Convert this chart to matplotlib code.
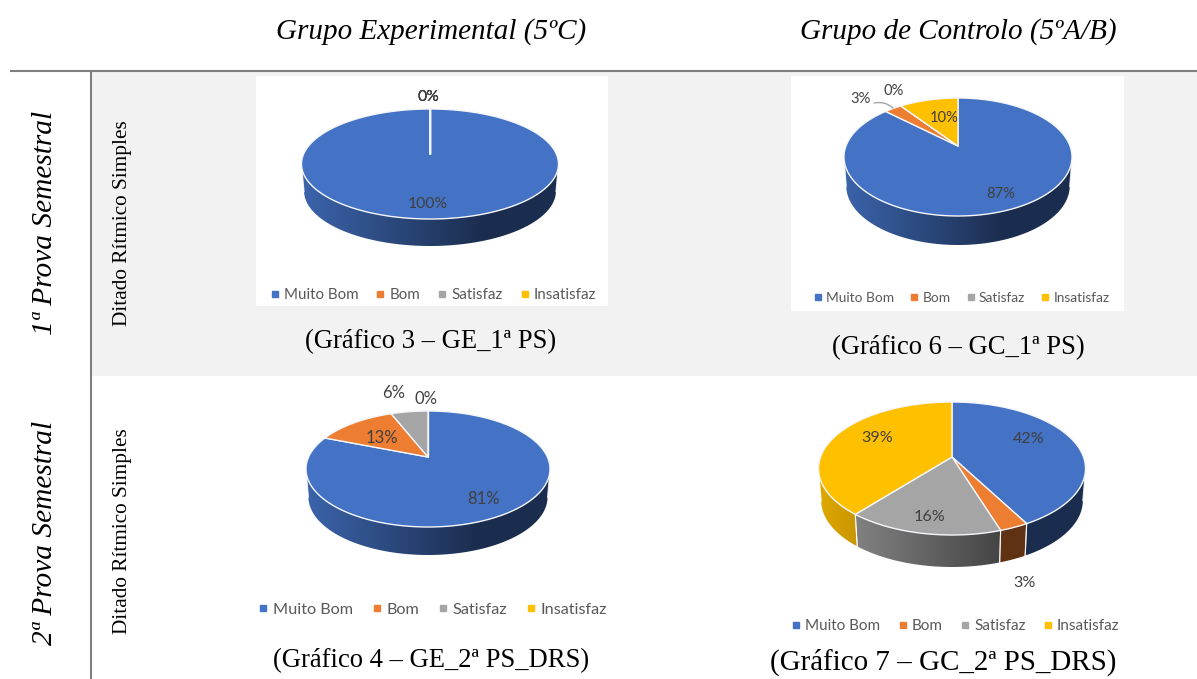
import numpy as np
import matplotlib
matplotlib.use('Agg')
import matplotlib.pyplot as plt
from matplotlib.colors import to_rgb
from matplotlib.lines import Line2D
from matplotlib.patches import Polygon, Rectangle

W, H = 1197, 679

categories = ['Muito Bom', 'Bom', 'Satisfaz', 'Insatisfaz']
colors = ['#4472c4', '#ed7d31', '#a5a5a5', '#ffc000']

values_ge1 = [100, 0, 0, 0]
values_gc1 = [87, 3, 0, 10]
values_ge2 = [81, 13, 6, 0]
values_gc2 = [42, 3, 16, 39]

column_titles = ['Grupo Experimental (5ºC)', 'Grupo de Controlo (5ºA/B)']
row_titles = ['1ª Prova Semestral', '2ª Prova Semestral']
test_name = 'Ditado Rítmico Simples'
captions = ['(Gráfico 3 – GE_1ª PS)', '(Gráfico 6 – GC_1ª PS)',
            '(Gráfico 4 – GE_2ª PS_DRS)', '(Gráfico 7 – GC_2ª PS_DRS)']

# layout, all in pixels of the reference
# panel = x0, x1, y0, y1 / apex, top, bottom and rx of the top face
charts = [
    dict(values=values_ge1, panel=(256, 608, 76, 306), apex=(430, 154), top=109, bottom=219, rx=128.5, depth=27,
         labels=[(428, 204), (428, 97), (428, 97), (428, 97)], legend=(433.5, 295), fs=11.3, lfs=10.9, spacing=1.2),
    dict(values=values_gc1, panel=(791, 1124, 76, 311), apex=(958, 146), top=98, bottom=216, rx=114, depth=29,
         labels=[(1001, 194), (861, 99), (894, 91), (944, 118)], legend=(962, 298), fs=10.6, lfs=9.9, spacing=1.2),
    dict(values=values_ge2, panel=(250, 613, 378, 630), apex=(428, 457), top=411, bottom=527, rx=122, depth=28,
         labels=[(484, 499), (382, 438), (394, 393), (426, 399)], legend=(433, 610), fs=12, lfs=11.7, spacing=1.2),
    dict(values=values_gc2, panel=(770, 1130, 385, 640), apex=(952, 457), top=402, bottom=535, rx=133.5, depth=32,
         labels=[(1029, 439), (1025, 583), (930, 517), (877, 438)], legend=(956, 626), fs=11.6, lfs=11, spacing=1.2),
]


def project(theta, apex, top, bottom, rx):
    # circle seen in perspective, so the apex sits above the ellipse centre
    k = (bottom - apex[1] - (apex[1] - top)) / (bottom - top)
    sy = (apex[1] - top) * (1 + k)
    sx = rx * np.sqrt(1 - k ** 2)
    u, v = np.sin(theta), np.cos(theta)
    return apex[0] + sx * u / (1 + k * v), apex[1] - sy * v / (1 + k * v), v, k


def draw_pie(ax, c):
    apex, top, bottom, rx, depth = c['apex'], c['top'], c['bottom'], c['rx'], c['depth']
    vals = np.array(c['values'], dtype=float)
    edges = np.concatenate([[0], np.cumsum(vals) / vals.sum()]) * 2 * np.pi
    left, right = apex[0] - rx - 2, apex[0] + rx + 2
    frac = np.linspace(0, 1, 300)
    shade = np.interp(frac, [0, 0.7, 1], [0.88, 0.4, 0.4])
    cx = (left + right) / 2

    # side walls first
    for i, col in enumerate(colors):
        t = np.linspace(edges[i], edges[i + 1], 400)
        x, y, v, k = project(t, apex, top, bottom, rx)
        mask = v < -k
        if mask.sum() < 2:
            continue
        x, y = x[mask], y[mask]
        xb = cx + (x - cx) * 0.98
        yb = y + depth
        poly = np.column_stack([np.r_[x, xb[::-1]], np.r_[y, yb[::-1]]])
        grad = shade[None, :, None] * np.array(to_rgb(col))[None, None, :]
        im = ax.imshow(grad, extent=(left, right, bottom + depth + 5, top), aspect='auto',
                       interpolation='bilinear', zorder=2)
        im.set_clip_path(Polygon(poly, closed=True, transform=ax.transData))
        for px, pxb, py, pyb in [(x[0], xb[0], y[0], yb[0]), (x[-1], xb[-1], y[-1], yb[-1])]:
            ax.plot([px, pxb], [py, pyb], color='white', lw=0.8, alpha=0.8, zorder=3)

    # top face
    for i, col in enumerate(colors):
        t = np.linspace(edges[i], edges[i + 1], 300)
        x, y, _, _ = project(t, apex, top, bottom, rx)
        ax.fill(np.r_[apex[0], x], np.r_[apex[1], y], facecolor=col, edgecolor='#f4f6fa',
                lw=1.0, zorder=4, joinstyle='round')

    for val, pos in zip(c['values'], c['labels']):
        ax.text(pos[0], pos[1], f'{val}%', ha='center', va='center', fontsize=c['fs'],
                family='Lato', color='#404040', zorder=6)

    handles = [Line2D([], [], marker='s', ls='none', color=col, ms=4.5) for col in colors]
    ax.legend(handles, categories, ncol=4, loc='center', bbox_to_anchor=c['legend'],
              bbox_transform=ax.transData, frameon=False, handlelength=0.5, handletextpad=0.35,
              columnspacing=c['spacing'], borderpad=0, borderaxespad=0,
              prop=dict(family='Lato', size=c['lfs']), labelcolor='#595959')

    x0, x1, y0, y1 = c['panel']
    ax.set_xlim(x0, x1)
    ax.set_ylim(y1, y0)
    ax.set_xticks([])
    ax.set_yticks([])
    for s in ax.spines.values():
        s.set_visible(False)


fig = plt.figure(figsize=(W / 100, H / 100), dpi=100, facecolor='white')

bg = fig.add_axes([0, 0, 1, 1], zorder=0)
bg.set_xlim(0, W)
bg.set_ylim(H, 0)
bg.axis('off')
bg.add_patch(Rectangle((92, 72), W - 92, 304, facecolor='#f2f2f2', edgecolor='none'))
bg.plot([10, W], [71, 71], color='#7f7f7f', lw=1.5, solid_capstyle='butt')
bg.plot([91, 91], [71, H], color='#7f7f7f', lw=1.5, solid_capstyle='butt')

serif = 'Liberation Serif'
for x, t in zip([431, 958], column_titles):
    bg.text(x, 31.5, t, ha='center', va='center', family=serif, style='italic', fontsize=21, color='black')
for y, t in zip([222.5, 532.5], row_titles):
    bg.text(45, y, t, ha='center', va='center', rotation=90, family=serif, style='italic', fontsize=21.2, color='black')
for y in [223.5, 531.5]:
    bg.text(122, y, test_name, ha='center', va='center', rotation=90, family=serif, fontsize=15.3, color='black')
for (x, y), t, fs in zip([(431, 342), (958, 348), (431, 661), (943.5, 662)], captions, [19.2, 19.2, 19.2, 20.9]):
    bg.text(x, y, t, ha='center', va='center', family=serif, fontsize=fs, color='black')

for c in charts:
    x0, x1, y0, y1 = c['panel']
    ax = fig.add_axes([x0 / W, 1 - y1 / H, (x1 - x0) / W, (y1 - y0) / H], zorder=1, facecolor='white')
    draw_pie(ax, c)
    if c['values'] is values_gc1:
        # leader line from the 3% label to its slice
        ax.annotate('', xy=(893, 108), xytext=(874, 103),
                    arrowprops=dict(arrowstyle='-', color='#a6a6a6', lw=1, shrinkA=0, shrinkB=0,
                                    connectionstyle='arc3,rad=-0.25'), zorder=5)

fig.savefig('out.png', dpi=100)
